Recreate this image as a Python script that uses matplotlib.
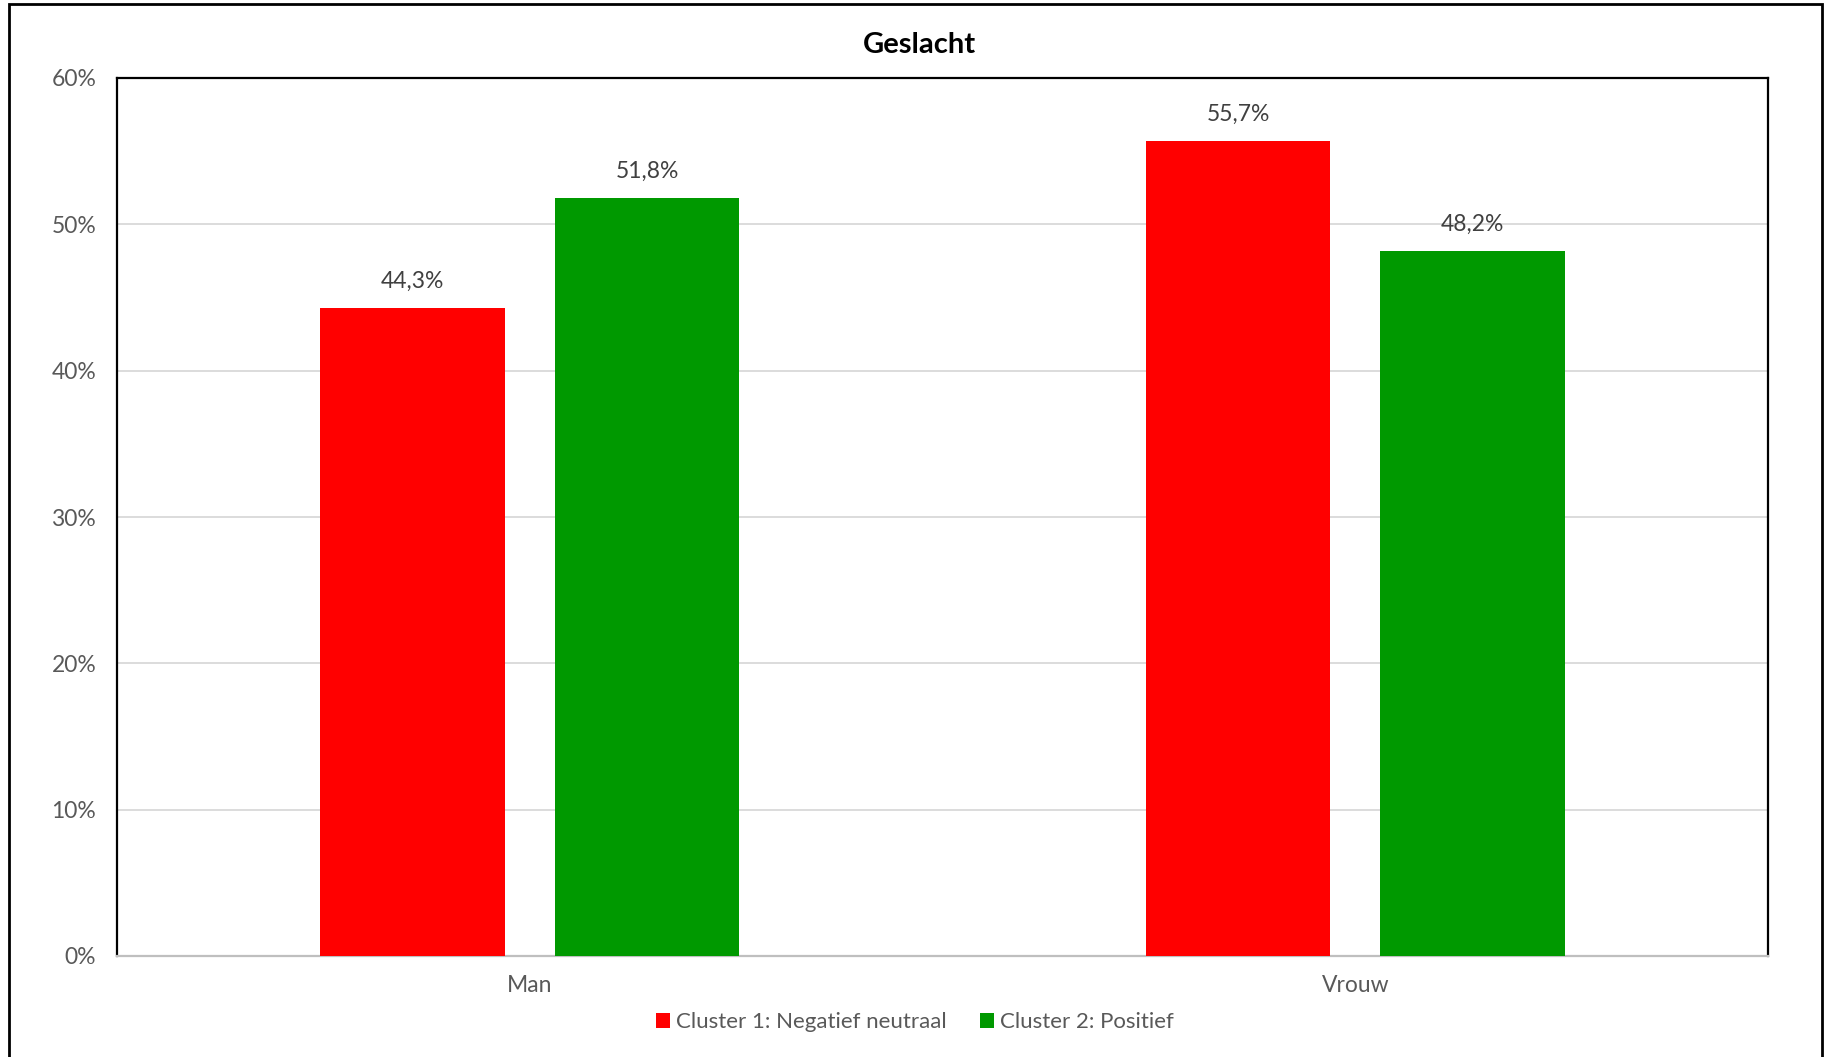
import matplotlib
matplotlib.use("Agg")
import matplotlib.pyplot as plt
from matplotlib.patches import Rectangle
import numpy as np

categories = ["Man", "Vrouw"]
series_names = ["Cluster 1: Negatief neutraal", "Cluster 2: Positief"]
cluster1 = [44.3, 55.7]
cluster2 = [51.8, 48.2]
colors = ["#FF0000", "#009900"]
yticks = [0, 10, 20, 30, 40, 50, 60]

plt.rcParams['font.family'] = ['Lato', 'DejaVu Sans']
W, H = 1829, 1057
fig = plt.figure(figsize=(W/100, H/100), dpi=100)

# outer frame
fig.patches.append(Rectangle((9/W, -0.01), (1822-9)/W, 1 + 0.01 - 4/H, transform=fig.transFigure,
                             fill=False, edgecolor="black", linewidth=2, zorder=0))

left, right, top, bottom = 117, 1768, 78, 956
ax = fig.add_axes([left/W, 1 - bottom/H, (right-left)/W, (bottom-top)/H])

x = np.arange(len(categories))
bw = 0.224
off = 0.142
txt = "#595959"
fs = 16.5
for vals, dx, c, name in [(cluster1, -off, colors[0], series_names[0]), (cluster2, off, colors[1], series_names[1])]:
    bars = ax.bar(x + dx, vals, width=bw, color=c, label=name, zorder=3)
    for b, v in zip(bars, vals):
        ax.text(b.get_x() + b.get_width()/2, v + 1.1, f"{v:.1f}%".replace(".", ","),
                ha="center", va="bottom", fontsize=fs, color="#404040")

ax.set_xlim(-0.5, 1.5)
ax.set_ylim(0, 60)
ax.set_yticks(yticks)
ax.set_yticklabels([f"{t}%" for t in yticks], fontsize=fs, color=txt)
ax.set_xticks(x)
ax.set_xticklabels(categories, fontsize=fs, color=txt)
ax.tick_params(axis="both", length=0)
ax.tick_params(axis="y", pad=15)
ax.tick_params(axis="x", pad=14)
ax.grid(axis="y", color="#d9d9d9", linewidth=1.3, zorder=0)
for s in ["left", "top", "right"]:
    ax.spines[s].set_color("black")
    ax.spines[s].set_linewidth(1.6)
ax.spines["bottom"].set_color("#bfbfbf")
ax.spines["bottom"].set_linewidth(1.6)

fig.text(0.5027, 1 - 45/H, "Geslacht", ha="center", va="center", fontsize=21, fontweight="bold", color="black")

leg = fig.legend(loc="center", bbox_to_anchor=(0.5, 1 - 1022/H), ncol=2, frameon=False,
                 fontsize=16, handlelength=0.65, handleheight=0.65, handletextpad=0.25, columnspacing=1.5)
for t in leg.get_texts():
    t.set_color(txt)

fig.savefig("out.png", dpi=100, facecolor="white")
